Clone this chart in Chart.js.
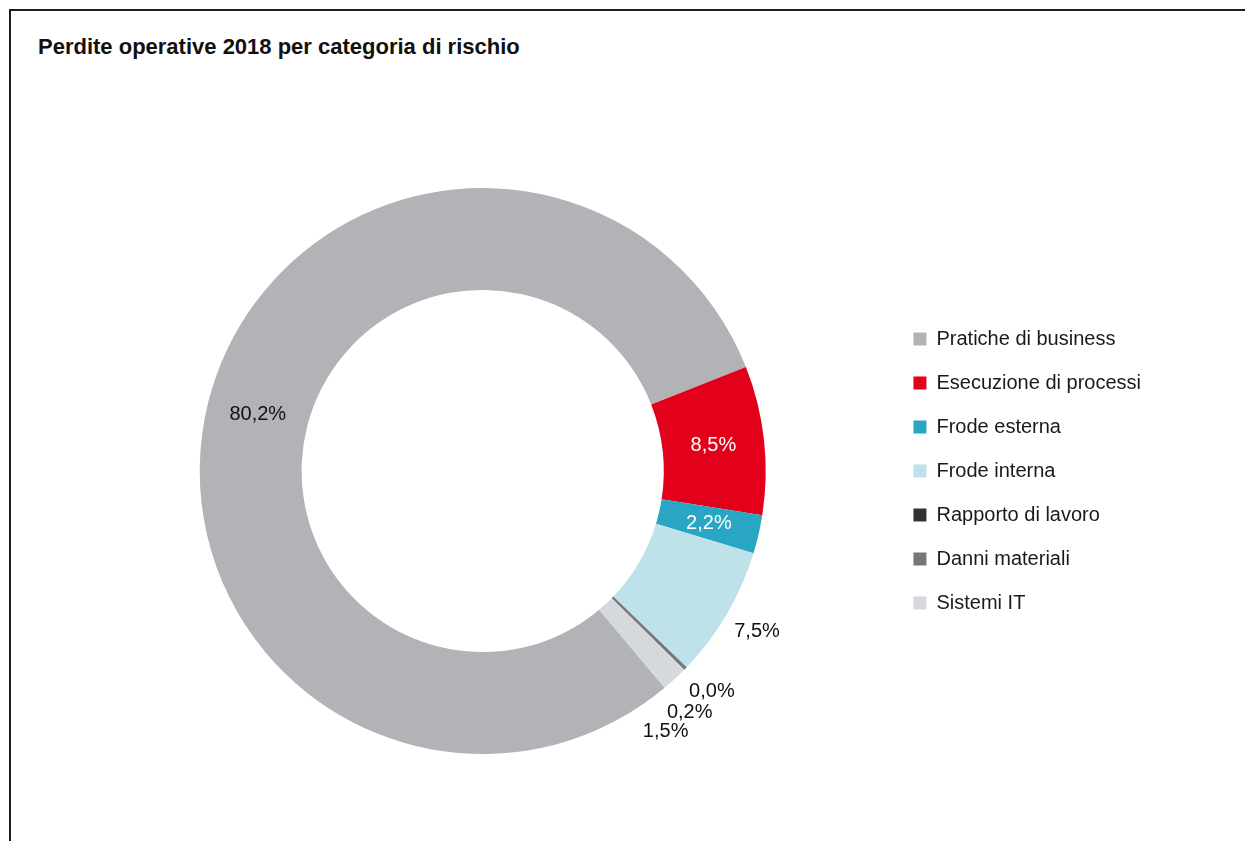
<!DOCTYPE html>
<html>
<head>
<meta charset="utf-8">
<script src="https://cdn.jsdelivr.net/npm/chart.js@4.4.0/dist/chart.umd.min.js"></script>
<style>
	body { margin: 0; background: #fff; }
	#cornice {
		position: absolute; left: 9px; top: 9px; width: 1236px; height: 832px;
		border-top: 2px solid #1e1e1e; border-left: 2px solid #1e1e1e;
	}
	#titolo {
		position: absolute; left: 38px; top: 34px;
		font: bold 22px "Liberation Sans", Arial, sans-serif; color: #111;
	}
	#wrap { position: absolute; left: 0; top: 0; width: 1245px; height: 841px; }
</style>
</head>
<body>
<div id="cornice"></div>
<div id="titolo">Perdite operative 2018 per categoria di rischio</div>
<div id="wrap"><canvas id="graficoPerdite" width="1245" height="841"></canvas></div>
<script>
// Dati
var categorie = [
	"Pratiche di business",
	"Esecuzione di processi",
	"Frode esterna",
	"Frode interna",
	"Rapporto di lavoro",
	"Danni materiali",
	"Sistemi IT",
];
var percentuali = [80.2, 8.5, 2.2, 7.5, 0.0, 0.2, 1.5];

// Stile
var colori = ["#b2b3b6", "#e2001a", "#29a6c4", "#bfe2ea", "#333336", "#77777b", "#d5d8dc"];
var posEtichetta = ["in", "in", "in", "out", "out", "out", "out"];
var coloreEtichetta = ["#111", "#fff", "#fff", "#111", "#111", "#111", "#111"];

var fontBase = '"Liberation Sans", Arial, sans-serif';

// Etichette percentuali (dentro o fuori dall'anello)
var pluginEtichette = {
	id: "etichette",
	afterDatasetsDraw(chart) {
		var ctx = chart.ctx;
		var meta = chart.getDatasetMeta(0);
		var ultimoAngolo = -1000;
		var gap = 5.5 * Math.PI / 180;
		ctx.save();
		ctx.font = "20px " + fontBase;
		ctx.textAlign = "center";
		ctx.textBaseline = "middle";
		for (var i = 0; i < meta.data.length; i++) {
			var arc = meta.data[i];
			var p = arc.getProps(["x", "y", "startAngle", "endAngle", "innerRadius", "outerRadius"], true);
			var medio = (p.startAngle + p.endAngle) / 2;
			var testo = percentuali[i].toFixed(1).replace(".", ",") + "%";
			var r;
			if (posEtichetta[i] == "in") {
				r = (p.innerRadius + p.outerRadius) / 2;
			} else {
				r = p.outerRadius + 35;
				// evita che le etichette piccole si sovrappongano
				if (medio < ultimoAngolo + gap) {
					medio = ultimoAngolo + gap;
				}
				ultimoAngolo = medio;
			}
			ctx.fillStyle = coloreEtichetta[i];
			ctx.fillText(testo, p.x + Math.cos(medio) * r, p.y + Math.sin(medio) * r);
		}
		ctx.restore();
	},
};

var grafico = new Chart(document.getElementById("graficoPerdite"), {
	type: "doughnut",
	data: {
		labels: categorie,
		datasets: [
			{
				data: percentuali,
				backgroundColor: colori,
				borderWidth: 0,
			},
		],
	},
	options: {
		responsive: false,
		animation: false,
		devicePixelRatio: 1,
		rotation: 140,
		cutout: "64%",
		layout: {
			padding: { left: 76, right: 94, top: 188, bottom: 87 },
		},
		plugins: {
			tooltip: { enabled: false },
			legend: {
				position: "right",
				labels: {
					boxWidth: 13,
					boxHeight: 13,
					padding: 24,
					color: "#1a1a1a",
					font: { family: fontBase, size: 20 },
				},
			},
		},
	},
	plugins: [pluginEtichette],
});
</script>
</body>
</html>
